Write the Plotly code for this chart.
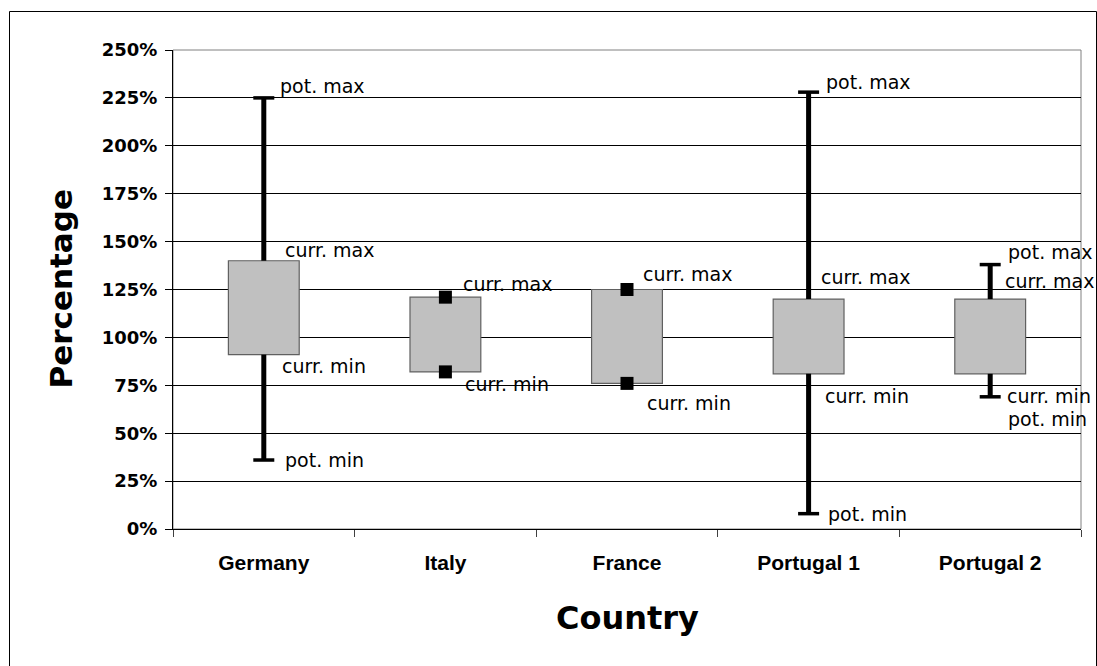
import plotly.graph_objects as go

# ---- data (percent) ----
countries = ["Germany", "Italy", "France", "Portugal 1", "Portugal 2"]
pot_max = [225, None, None, 228, 138]
curr_max = [140, 121, 125, 120, 120]
curr_min = [91, 82, 76, 81, 81]
pot_min = [36, None, None, 8, 69]
marker_countries = ["Italy", "France"]
y_ticks = [0, 25, 50, 75, 100, 125, 150, 175, 200, 225, 250]
y_tick_text = [f"{v}%" for v in y_ticks]

# ---- layout constants ----
W, H = 1097, 666
L, R, T, B = 173, 1097 - 1081, 50, 666 - 529
PW, PH = W - L - R, H - T - B

fig = go.Figure()

# whiskers (drawn only outside the box)
wx, wy = [], []
for c, pmx, cmx, cmn, pmn in zip(countries, pot_max, curr_max, curr_min, pot_min):
    if pmx is not None:
        wx += [c, c, None]
        wy += [cmx, pmx, None]
    if pmn is not None:
        wx += [c, c, None]
        wy += [pmn, cmn, None]
fig.add_trace(go.Scatter(x=wx, y=wy, mode="lines",
                         line=dict(color="black", width=5), showlegend=False,
                         hoverinfo="skip"))

# boxes
fig.add_trace(go.Bar(
    x=countries,
    y=[a - b for a, b in zip(curr_max, curr_min)],
    base=curr_min,
    width=0.39,
    marker=dict(color="#C0C0C0", line=dict(color="#606060", width=1.2)),
    showlegend=False, hoverinfo="skip"))

# caps
cx, cy = [], []
for c, pmx, pmn in zip(countries, pot_max, pot_min):
    if pmx is not None:
        cx.append(c); cy.append(pmx)
    if pmn is not None:
        cx.append(c); cy.append(pmn)
fig.add_trace(go.Scatter(x=cx, y=cy, mode="markers",
                         marker=dict(symbol="line-ew", size=15,
                                     line=dict(color="black", width=3.5)),
                         showlegend=False, hoverinfo="skip"))

# square markers for Italy / France
mx, my = [], []
for c, cmx, cmn in zip(countries, curr_max, curr_min):
    if c in marker_countries:
        mx += [c, c]
        my += [cmx, cmn]
fig.add_trace(go.Scatter(x=mx, y=my, mode="markers",
                         marker=dict(symbol="square", size=13, color="black"),
                         showlegend=False, hoverinfo="skip"))

# ---- labels (pixel offsets: xshift, yshift) ----
offsets = {
    "Germany":    {"pmx": (14, 12), "cmx": (19, 11), "cmn": (16, -11), "pmn": (19, 0)},
    "Italy":      {"cmx": (16, 13), "cmn": (18, -12)},
    "France":     {"cmx": (14, 16), "cmn": (18, -20)},
    "Portugal 1": {"pmx": (15, 10), "cmx": (10, 22), "cmn": (14, -22), "pmn": (17, 0)},
    "Portugal 2": {"pmx": (16, 13), "cmx": (13, 18), "cmn": (15, -22), "pmn": (16, -22)},
}
label_text = {"pmx": "pot. max", "cmx": "curr. max", "cmn": "curr. min", "pmn": "pot. min"}
annotations = []
for c, pmx, cmx, cmn, pmn in zip(countries, pot_max, curr_max, curr_min, pot_min):
    vals = {"pmx": pmx, "cmx": cmx, "cmn": cmn, "pmn": pmn}
    for k, (dx, dy) in offsets[c].items():
        annotations.append(dict(
            x=c, y=vals[k], xref="x", yref="y", text=label_text[k], showarrow=False,
            xanchor="left", yanchor="middle", xshift=dx, yshift=dy,
            font=dict(family="DejaVu Sans", size=19, color="black")))

# axis titles
annotations.append(dict(
    x=(60 - L) / PW, y=0.5, xref="paper", yref="paper", text="<b>Percentage</b>",
    textangle=-90, showarrow=False, xanchor="center", yanchor="middle",
    font=dict(family="DejaVu Sans", size=31, color="black")))
annotations.append(dict(
    x=0.5, y=(529 - 618) / PH, xref="paper", yref="paper", text="<b>Country</b>",
    showarrow=False, xanchor="center", yanchor="middle",
    font=dict(family="DejaVu Sans", size=32, color="black")))

shapes = [
    # plot area border
    dict(type="rect", xref="paper", yref="paper", x0=0, x1=1, y0=0, y1=1,
         line=dict(color="#808080", width=1), layer="below"),
    # outer chart frame
    dict(type="rect", xref="paper", yref="paper",
         x0=(9.5 - L) / PW, x1=(1096.5 - L) / PW,
         y0=(529 - 720) / PH, y1=(529 - 11.5) / PH,
         line=dict(color="black", width=1), layer="below"),
]

fig.update_layout(
    width=W, height=H,
    margin=dict(l=L, r=R, t=T, b=B, pad=0),
    paper_bgcolor="white", plot_bgcolor="white",
    annotations=annotations, shapes=shapes,
    showlegend=False,
    xaxis=dict(
        type="category", categoryorder="array", categoryarray=countries,
        range=[-0.5, 4.5], tickson="boundaries", ticks="outside", ticklen=7,
        tickcolor="#404040", tickwidth=1,
        showline=True, linecolor="black", linewidth=1, showgrid=False,
        tickfont=dict(family="Liberation Sans", size=21, color="black", weight="bold"),
        ticklabelstandoff=15, fixedrange=True),
    yaxis=dict(
        range=[0, 250], tickmode="array", tickvals=y_ticks, ticktext=y_tick_text,
        ticks="outside", ticklen=7, tickcolor="black",
        showline=True, linecolor="black", linewidth=1,
        showgrid=True, gridcolor="black", gridwidth=1, zeroline=False,
        tickfont=dict(family="DejaVu Sans", size=18, color="black", weight="bold"),
        ticklabelstandoff=4, fixedrange=True),
)

fig.write_html(
    "out.html",
    config={"displayModeBar": False},
    post_script="document.body.style.margin='0px';document.body.style.overflow='hidden';",
)
